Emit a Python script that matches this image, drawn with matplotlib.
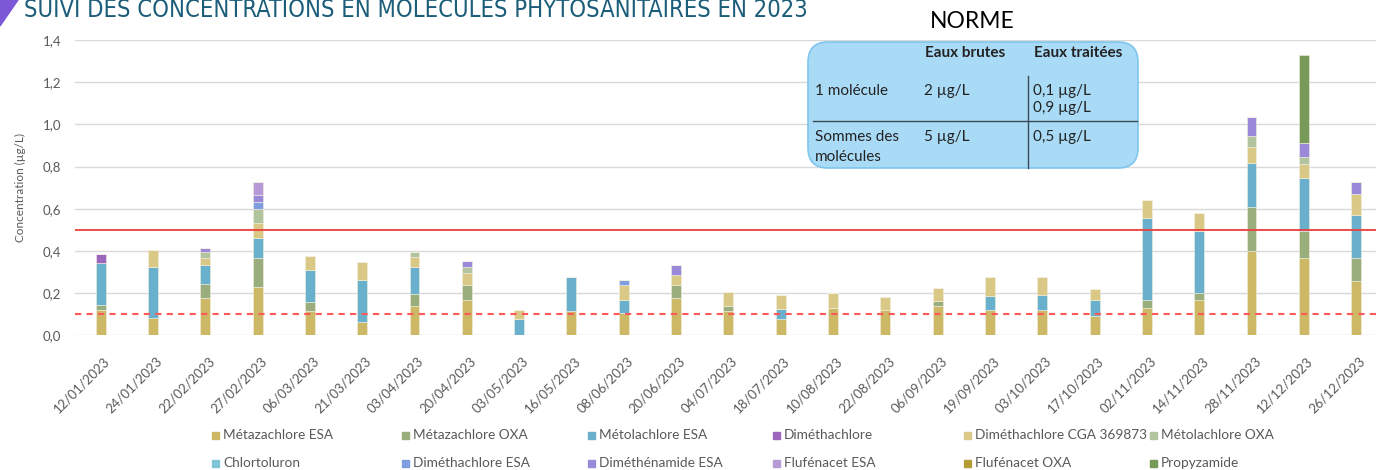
import matplotlib
matplotlib.use("Agg")
import matplotlib.pyplot as plt
import numpy as np
from matplotlib.patches import FancyBboxPatch, Polygon
from matplotlib.transforms import ScaledTranslation, IdentityTransform

plt.rcParams['font.family'] = ['Lato', 'DejaVu Sans']

dates = ["12/01/2023", "24/01/2023", "22/02/2023", "27/02/2023", "06/03/2023",
         "21/03/2023", "03/04/2023", "20/04/2023", "03/05/2023", "16/05/2023",
         "08/06/2023", "20/06/2023", "04/07/2023", "18/07/2023", "10/08/2023",
         "22/08/2023", "06/09/2023", "19/09/2023", "03/10/2023", "17/10/2023",
         "02/11/2023", "14/11/2023", "28/11/2023", "12/12/2023", "26/12/2023"]

metazachlore_esa = [0.120, 0.082, 0.178, 0.228, 0.117, 0.062, 0.137, 0.167, 0.0, 0.115,
                    0.105, 0.177, 0.115, 0.075, 0.129, 0.120, 0.137, 0.118, 0.118, 0.092,
                    0.131, 0.169, 0.398, 0.367, 0.258]
metazachlore_oxa = [0.022, 0.0, 0.065, 0.138, 0.042, 0.0, 0.059, 0.072, 0.0, 0.0,
                    0.0, 0.063, 0.022, 0.0, 0.0, 0.0, 0.024, 0.0, 0.0, 0.0,
                    0.038, 0.030, 0.210, 0.127, 0.109]
metolachlore_esa = [0.200, 0.240, 0.090, 0.095, 0.152, 0.199, 0.129, 0.0, 0.076, 0.161,
                    0.062, 0.0, 0.0, 0.050, 0.0, 0.0, 0.0, 0.070, 0.073, 0.077,
                    0.389, 0.294, 0.210, 0.253, 0.202]
dimethachlore = [0.045, 0.0, 0.0, 0.0, 0.0, 0.0, 0.0, 0.0, 0.0, 0.0,
                 0.0, 0.0, 0.0, 0.0, 0.0, 0.0, 0.0, 0.0, 0.0, 0.0,
                 0.0, 0.0, 0.0, 0.0, 0.0]
dimethachlore_cga = [0.0, 0.082, 0.035, 0.070, 0.066, 0.087, 0.045, 0.058, 0.042, 0.0,
                     0.073, 0.044, 0.068, 0.064, 0.070, 0.060, 0.063, 0.088, 0.085, 0.052,
                     0.082, 0.087, 0.076, 0.065, 0.101]
metolachlore_oxa = [0.0, 0.0, 0.025, 0.068, 0.0, 0.0, 0.026, 0.028, 0.0, 0.0,
                    0.0, 0.0, 0.0, 0.0, 0.0, 0.0, 0.0, 0.0, 0.0, 0.0,
                    0.0, 0.0, 0.052, 0.035, 0.0]
chlortoluron = [0.0] * 25
dimethachlore_esa = [0.0, 0.0, 0.0, 0.033, 0.0, 0.0, 0.0, 0.0, 0.0, 0.0,
                     0.020, 0.0, 0.0, 0.0, 0.0, 0.0, 0.0, 0.0, 0.0, 0.0,
                     0.0, 0.0, 0.0, 0.0, 0.0]
dimethenamide_esa = [0.0, 0.0, 0.019, 0.033, 0.0, 0.0, 0.0, 0.027, 0.0, 0.0,
                     0.0, 0.049, 0.0, 0.0, 0.0, 0.0, 0.0, 0.0, 0.0, 0.0,
                     0.0, 0.0, 0.088, 0.063, 0.058]
flufenacet_esa = [0.0, 0.0, 0.0, 0.060, 0.0, 0.0, 0.0, 0.0, 0.0, 0.0,
                  0.0, 0.0, 0.0, 0.0, 0.0, 0.0, 0.0, 0.0, 0.0, 0.0,
                  0.0, 0.0, 0.0, 0.0, 0.0]
flufenacet_oxa = [0.0] * 25
propyzamide = [0.0, 0.0, 0.0, 0.0, 0.0, 0.0, 0.0, 0.0, 0.0, 0.0,
               0.0, 0.0, 0.0, 0.0, 0.0, 0.0, 0.0, 0.0, 0.0, 0.0,
               0.0, 0.0, 0.0, 0.420, 0.0]

series_names = ["Métazachlore ESA", "Métazachlore OXA", "Métolachlore ESA", "Diméthachlore",
                "Diméthachlore CGA 369873", "Métolachlore OXA", "Chlortoluron",
                "Diméthachlore ESA", "Diméthénamide ESA", "Flufénacet ESA",
                "Flufénacet OXA", "Propyzamide"]
series_values = [metazachlore_esa, metazachlore_oxa, metolachlore_esa, dimethachlore,
                 dimethachlore_cga, metolachlore_oxa, chlortoluron, dimethachlore_esa,
                 dimethenamide_esa, flufenacet_esa, flufenacet_oxa, propyzamide]
colors = ["#cdb865", "#9aad7c", "#68b0cb", "#9c66bd", "#dac886", "#b2c49d",
          "#7fc4d9", "#7f9ee0", "#9a88d9", "#b79ad5", "#b89a3a", "#779a58"]

seuil_somme = 0.5
seuil_molecule = 0.1

W, H = 1376, 470
fig = plt.figure(figsize=(W / 100, H / 100), dpi=100)


def fx(x):
    return x / W


def fy(y):
    return 1 - y / H


ax = fig.add_axes([fx(75), fy(335.3), fx(W - 75), 295.3 / H])
x = np.arange(len(dates))
bottom = np.zeros(len(dates))
for name, vals, col in zip(series_names, series_values, colors):
    vals = np.array(vals)
    ax.bar(x, vals, 0.19, bottom=bottom, color=col, label=name, zorder=3,
           edgecolor='#f3efe0', linewidth=0.4)
    bottom += vals

ax.axhline(seuil_somme, color='#f03c3c', lw=1.3, zorder=4)
ax.axhline(seuil_molecule, color='#ff5a5a', lw=1.5, ls=(0, (3, 2.5)), zorder=4)

ax.set_ylim(0, 1.4)
ax.set_xlim(-0.49, 24.38)
ax.set_yticks(np.arange(0, 1.41, 0.2))
ax.set_yticklabels([f"{v:.1f}".replace('.', ',') for v in np.arange(0, 1.41, 0.2)],
                   fontsize=9.5, color='#595959')
ax.grid(axis='y', color='#d9d9d9', lw=1, zorder=0)
for s in ax.spines.values():
    s.set_visible(False)
ax.tick_params(length=0, axis='y', pad=10)
ax.tick_params(length=0, axis='x', pad=14)
ax.set_xticks(x)
ax.set_xticklabels(dates, rotation=45, ha='right', va='top', rotation_mode='anchor',
                   fontsize=9.5, color='#595959')
off = ScaledTranslation(3 / 100, 0, fig.dpi_scale_trans)
for lab in ax.get_xticklabels():
    lab.set_transform(lab.get_transform() + off)
ax.set_ylabel("Concentration (µg/L)", fontsize=8.5, color='#595959', labelpad=12)

# legend drawn by hand (two rows of six)
leg_x = [215, 405, 591, 776, 967, 1153]
leg_y = [435, 463]
for i, (name, col) in enumerate(zip(series_names, colors)):
    px = leg_x[i % 6]
    py = leg_y[i // 6]
    fig.patches.append(plt.Rectangle((px - 3.5, H - py - 3.5), 7, 7, color=col,
                                     transform=IdentityTransform(), figure=fig))
    fig.text(fx(px + 8), fy(py), name, fontsize=9.8, color='#595959', va='center')

# title (top cropped in the original)
t = fig.text(fx(24), fy(17), "SUIVI DES CONCENTRATIONS EN MOLÉCULES PHYTOSANITAIRES EN 2023",
             fontsize=24, color='#1c5d7a', va='baseline', ha='left',
             family=['Liberation Sans Narrow', 'DejaVu Sans'], fontstretch='condensed')
fig.canvas.draw()
w = t.get_window_extent().width
t.set_fontsize(24 * 782 / w)
fig.patches.append(Polygon([(0, H), (18, H), (0, H - 26)], closed=True, color='#7d58d6',
                           transform=IdentityTransform(), figure=fig))

# norm box
fig.text(fx(972), fy(22), "NORME", fontsize=16.5, ha='center', va='center', color='black')
box = FancyBboxPatch((808, H - 168), 330, 126, boxstyle="round,pad=0,rounding_size=20",
                     facecolor='#a9dbf7', edgecolor='#7fc6ee', lw=1.2,
                     transform=IdentityTransform(), figure=fig)
fig.patches.append(box)
fig.lines.append(plt.Line2D([fx(813), fx(1137)], [fy(120.7), fy(120.7)], color='#3a4a55',
                            lw=1, transform=fig.transFigure))
fig.lines.append(plt.Line2D([fx(1027.7), fx(1027.7)], [fy(76), fy(168)], color='#3a4a55',
                            lw=1, transform=fig.transFigure))
cell = dict(fontsize=11, color='#222222', va='center', ha='left')
fig.text(fx(925), fy(53), "Eaux brutes", fontweight='bold', **cell)
fig.text(fx(1034), fy(53), "Eaux traitées", fontweight='bold', **cell)
fig.text(fx(815), fy(91), "1 molécule", **cell)
fig.text(fx(924), fy(91), "2 µg/L", **cell)
fig.text(fx(1033), fy(91), "0,1 µg/L", **cell)
fig.text(fx(1033), fy(108), "0,9 µg/L", **cell)
fig.text(fx(815), fy(137), "Sommes des", **cell)
fig.text(fx(815), fy(157), "molécules", **cell)
fig.text(fx(924), fy(137), "5 µg/L", **cell)
fig.text(fx(1033), fy(137), "0,5 µg/L", **cell)

fig.savefig("out.png", dpi=100)
